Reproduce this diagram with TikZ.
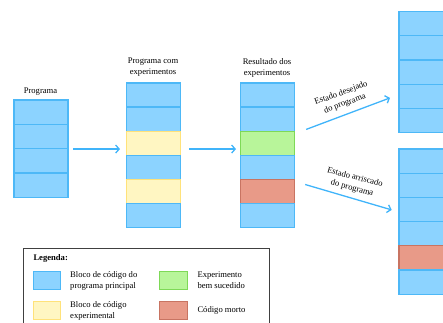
\documentclass[tikz,border=0pt]{standalone}
\usepackage{fontspec}
\setmainfont{Liberation Serif}
\usetikzlibrary{arrows.meta}

\definecolor{mainfill}{HTML}{8CD3FF}
\definecolor{mainline}{HTML}{4DB8F7}
\definecolor{expfill}{HTML}{FFF6C2}
\definecolor{expline}{HTML}{FFE27A}
\definecolor{okfill}{HTML}{B8F59A}
\definecolor{okline}{HTML}{7ED957}
\definecolor{deadfill}{HTML}{E89A88}
\definecolor{deadline}{HTML}{C87462}
\definecolor{flow}{HTML}{40B4FA}
\definecolor{frame}{HTML}{404040}

\tikzset{
  block/.style={draw, line width=1.2pt, minimum width=54pt, minimum height=24.2pt,
    inner sep=0pt, anchor=north west},
  mainblk/.style={block, fill=mainfill, draw=mainline},
  expblk/.style={block, fill=expfill, draw=expline},
  okblk/.style={block, fill=okfill, draw=okline},
  deadblk/.style={block, fill=deadfill, draw=deadline},
  lbl/.style={font=\fontsize{8.6}{11}\selectfont, align=center, inner sep=0pt},
  legtext/.style={lbl, align=left, anchor=west},
  flowarrow/.style={draw=flow, line width=1.3pt, -{Straight Barb[length=3.5pt,width=8pt]}},
  swatch/.style={draw, line width=1pt, minimum width=27.5pt, minimum height=18pt,
    inner sep=0pt, anchor=north west},
}

\begin{document}
\begin{tikzpicture}[x=1pt, y=-1pt]
  \clip (0,0) rectangle (443,322);

  % original program
  \foreach \s [count=\i] in {mainblk,mainblk,mainblk,mainblk}
    \node[style=\s] (p\i) at (13.3,{99.3+24.35*(\i-1)}) {};
  \node[lbl] (lp) at (40.5,91.7) {Programa};

  % program with experiments
  \foreach \s [count=\i] in {mainblk,mainblk,expblk,mainblk,expblk,mainblk}
    \node[style=\s] (e\i) at (126,{82.3+24.1*(\i-1)}) {};
  \node[lbl] (le) at (153,67.5) {Programa com\\experimentos};

  % outcome of the experiments
  \foreach \s [count=\i] in {mainblk,mainblk,okblk,mainblk,deadblk,mainblk}
    \node[style=\s] (r\i) at (240,{82.3+24.1*(\i-1)}) {};
  \node[lbl] (lr) at (267,67.5) {Resultado dos\\experimentos};

  % desired state
  \foreach \s [count=\i] in {mainblk,mainblk,mainblk,mainblk,mainblk}
    \node[style=\s] (d\i) at (398.3,{11+24.2*(\i-1)}) {};

  % risky state
  \foreach \s [count=\i] in {mainblk,mainblk,mainblk,mainblk,deadblk,mainblk}
    \node[style=\s] (k\i) at (398.3,{148.3+24.2*(\i-1)}) {};

  % flow arrows
  \draw[flowarrow] ([xshift=4.5pt]p2.south east) -- ([xshift=-6pt]p2.south east -| e1.west);
  \draw[flowarrow] ([xshift=8pt]p2.south east -| e1.east) -- ([xshift=-4pt]p2.south east -| r1.west);
  \draw[flowarrow] ([shift={(11,-2.4)}]r2.south east) -- ([shift={(-8.3,1.6)}]d4.west);
  \draw[flowarrow] ([shift={(10,-6.9)}]r5.east) -- ([shift={(-6.6,0.5)}]k3.west);

  \node[lbl, rotate=20] (ld) at (343,98.5) {Estado desejado\\do programa};
  \node[lbl, rotate=-15] (la) at (353.5,183) {Estado arriscado\\do programa};

  % legend
  \node[draw=frame, line width=1pt, minimum width=245.4pt, minimum height=90pt,
        inner sep=0pt, anchor=north west] (legend) at (23.3,247.7) {};
  \node[lbl, font=\fontsize{8.6}{11}\selectfont\bfseries, anchor=base west] (lt) at (33.3,260.5) {Legenda:};

  \node[swatch, fill=mainfill, draw=mainline] (s1) at (32.5,271) {};
  \node[legtext] (t1) at ([xshift=9pt]s1.east) {Bloco de código do\\programa principal};
  \node[swatch, fill=expfill, draw=expline] (s2) at (32.5,301) {};
  \node[legtext] (t2) at ([xshift=9pt]s2.east) {Bloco de código\\experimental};
  \node[swatch, fill=okfill, draw=okline] (s3) at (159.3,271) {};
  \node[legtext] (t3) at ([xshift=9.5pt]s3.east) {Experimento\\bem sucedido};
  \node[swatch, fill=deadfill, draw=deadline] (s4) at (159.3,301) {};
  \node[legtext] (t4) at ([xshift=9.5pt]s4.east) {Código morto};
\end{tikzpicture}
\end{document}
